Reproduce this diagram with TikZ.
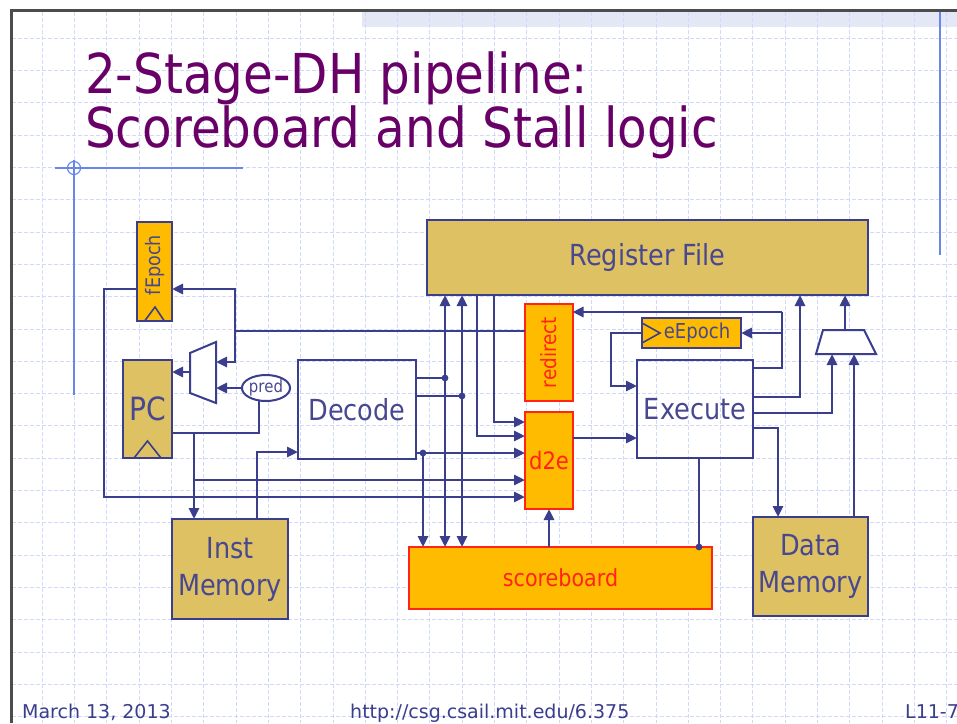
\documentclass[tikz,border=0pt]{standalone}
\usepackage{fontspec}
\setmainfont{DejaVu Sans}
\newfontfamily\cfont[FakeStretch=0.88]{DejaVu Sans}
\usetikzlibrary{arrows.meta,shapes.geometric,calc}
\definecolor{navy}{RGB}{58,62,140}
\definecolor{txtc}{RGB}{72,72,145}
\definecolor{tanc}{RGB}{222,193,99}
\definecolor{goldc}{RGB}{255,187,0}
\definecolor{redc}{RGB}{255,36,20}
\definecolor{titlec}{RGB}{104,0,104}
\definecolor{gridc}{RGB}{208,217,250}
\definecolor{decoc}{RGB}{105,135,235}
\definecolor{bandc}{RGB}{228,232,246}
\begin{document}
\begin{tikzpicture}[x=1pt,y=-1pt,font=\cfont,
  gridl/.style={draw=gridc,line width=1pt,dash pattern=on 4pt off 2pt},
  tanbox/.style={draw=navy,line width=2pt,fill=tanc,inner sep=0pt,outer sep=0pt,text=txtc},
  goldbox/.style={draw=navy,line width=2pt,fill=goldc,inner sep=0pt,outer sep=0pt},
  redbox/.style={draw=redc,line width=2pt,fill=goldc,inner sep=0pt,outer sep=0pt,text=redc},
  plainbox/.style={draw=navy,line width=2pt,inner sep=0pt,outer sep=0pt,text=txtc},
  wire/.style={draw=navy,line width=2.9pt},
  arr/.style={draw=navy,line width=2.9pt,-{Triangle[length=11pt,width=10pt]}},
  arrb/.style={draw=navy,line width=2.9pt,{Triangle[length=11pt,width=10pt]}-{Triangle[length=11pt,width=10pt]}},
  jdot/.style={fill=navy},
  big/.style={font=\cfont\fontsize{29}{37}\selectfont}]
\useasboundingbox (0,0) rectangle (957,723);
\clip (0,0) rectangle (957,723);
\fill[white] (0,0) rectangle (957,723);
% graph paper
\fill[bandc] (362,12) rectangle (957,27);
\foreach \i in {0,...,29} \draw[gridl] ({10+32.3*\i},12) -- ({10+32.3*\i},723);
\foreach \j in {1,...,22} \draw[gridl] (12,{6+32.3*\j}) -- (957,{6+32.3*\j});
% slide frame and decoration
\draw[line width=3pt,black!70] (11,723) -- (11,10) -- (957,10);
\draw[decoc,line width=1.5pt] (940,12) -- (940,255);
\draw[decoc,line width=2pt] (55,168) -- (243,168);
\draw[decoc,line width=1.3pt] (74,160) -- (74,395);
\draw[decoc,line width=1.2pt] (74,168) circle (6.5);
% title
\node[anchor=base west,inner sep=0pt,text=titlec,font=\cfont\fontsize{55}{60}\selectfont] (t1) at (85,93) {2-Stage-DH pipeline:};
\node[anchor=base west,inner sep=0pt,text=titlec,font=\cfont\fontsize{55}{60}\selectfont] (t2) at (85,147) {Scoreboard and Stall logic};
% footer
\node[anchor=base west,inner sep=0pt,text=navy,font=\fontsize{19}{22}\selectfont] (f1) at (22,718) {March 13, 2013};
\node[anchor=base west,inner sep=0pt,text=navy,font=\fontsize{19}{22}\selectfont] (f2) at (350,718) {http://csg.csail.mit.edu/6.375};
\node[anchor=base west,inner sep=0pt,text=navy,font=\fontsize{19}{22}\selectfont] (f3) at (905,718) {L11-7};
% boxes
\node[tanbox,big,minimum width=441pt,minimum height=75pt] (RF) at (647.5,257.5) {Register File};
\node[goldbox,minimum width=35pt,minimum height=99pt] (fE) at (154.5,271.5) {};
\node[rotate=90,inner sep=0pt,text=txtc,font=\cfont\fontsize{20}{24}\selectfont] (fEt) at (155,265) {fEpoch};
\draw[navy,line width=1.6pt] (145,320.5) -- (155,307) -- (164,320.5);
\node[tanbox,minimum width=49pt,minimum height=98pt] (PC) at (147.5,409) {};
\node[inner sep=0pt,text=txtc,font=\cfont\fontsize{32}{36}\selectfont] (PCt) at (147.5,409) {PC};
\draw[navy,line width=1.6pt] (134,458) -- (147.5,441) -- (161,458);
\filldraw[fill=white,draw=navy,line width=2pt] (190,353) -- (216,342) -- (216,403) -- (190,393) -- cycle;
\coordinate (mxo) at (190,372);
\coordinate (mxa) at (216,362);
\coordinate (mxb) at (216,388);
\node[ellipse,draw=navy,line width=2pt,fill=white,minimum width=45pt,minimum height=26pt,inner sep=0pt,text=txtc,font=\cfont\fontsize{17}{20}\selectfont] (pred) at (266,388) {pred};
\node[plainbox,big,minimum width=118pt,minimum height=99pt] (Dec) at (357,409.5) {Decode};
\node[tanbox,big,minimum width=116pt,minimum height=100pt,align=center] (IM) at (230,569) {Inst\\Memory};
\node[redbox,minimum width=48pt,minimum height=97pt] (red) at (548.5,352.5) {};
\node[rotate=90,inner sep=0pt,text=redc,font=\cfont\fontsize{21}{24}\selectfont] (redt) at (548.5,352.5) {redirect};
\node[redbox,minimum width=48pt,minimum height=97pt,font=\cfont\fontsize{24}{28}\selectfont] (d2e) at (549,460.5) {d2e};
\node[redbox,minimum width=303pt,minimum height=62pt,font=\cfont\fontsize{23.5}{28}\selectfont] (SB) at (560.5,578) {scoreboard};
\node[plainbox,big,minimum width=116pt,minimum height=98pt] (Exe) at (695,409) {Execute};
\node[goldbox,minimum width=99pt,minimum height=30pt] (eE) at (691.5,333) {};
\node[inner sep=0pt,text=txtc,font=\cfont\fontsize{20.5}{24}\selectfont] (eEt) at (697,333) {eEpoch};
\draw[navy,line width=1.6pt] (642,323) -- (660,333) -- (642,343);
\filldraw[fill=white,draw=navy,line width=2pt] (823,330) -- (864,330) -- (876,354) -- (816,354) -- cycle;
\coordinate (rmo) at (845,330);
\coordinate (rma) at (832,354);
\coordinate (rmb) at (854,354);
\node[tanbox,big,minimum width=115pt,minimum height=99pt,align=center] (DM) at (810.5,566.5) {Data\\Memory};
% connectors: fetch side
\coordinate (jr) at (235,331);
\draw[wire] (red.west |- jr) -- (jr);
\draw[arr] (jr) |- (fE.east |- 0,289);
\draw[arr] (jr) |- (mxa);
\draw[arr] (fE.west |- 0,289) -| (104,497) -- (d2e.west |- 0,497);
\draw[arr] (pred.west) -- (mxb);
\draw[arr] (mxo) -- (PC.east |- mxo);
\draw[wire] (PC.east |- 0,433) -| (259,400);
\draw[arr] (194,433) -- (IM.north -| 194,0);
\draw[arr] (194,480) -- (d2e.west |- 0,480);
\draw[arr] (IM.north -| 257,0) |- (Dec.west |- 0,452);
% decode side
\draw[wire] (Dec.east |- 0,378) -- (445,378);
\draw[wire] (Dec.east |- 0,396) -- (462,396);
\fill[jdot] (445,378) circle (3.4);
\fill[jdot] (462,396) circle (3.4);
\draw[arrb] (SB.north -| 445,0) -- (RF.south -| 445,0);
\draw[arrb] (SB.north -| 462,0) -- (RF.south -| 462,0);
\draw[arr] (Dec.east |- 0,453) -- (d2e.west |- 0,453);
\fill[jdot] (423,453) circle (3.4);
\draw[arr] (423,453) -- (SB.north -| 423,0);
\draw[arr] (RF.south -| 494,0) |- (d2e.west |- 0,422);
\draw[arr] (RF.south -| 477,0) |- (d2e.west |- 0,436);
\draw[arr] (SB.north -| d2e.south) -- (d2e.south);
\draw[arr] (d2e.east |- 0,438) -- (Exe.west |- 0,438);
% execute side
\draw[arr] (eE.west) -| (611,386) -- (Exe.west |- 0,386);
\draw[wire] (Exe.east |- 0,368) -| (782,312);
\draw[arr] (782,312) -- (red.east |- 0,312);
\draw[arr] (782,333) -- (eE.east);
\draw[arr] (Exe.east |- 0,397) -| (RF.south -| 800,0);
\draw[arr] (Exe.east |- 0,413) -| (rma);
\draw[arr] (Exe.east |- 0,428) -| (DM.north -| 778,0);
\draw[arr] (DM.north -| 854,0) -- (rmb);
\draw[arr] (rmo) -- (RF.south -| rmo);
\draw[wire] (Exe.south -| 699,0) -- (SB.north -| 699,0);
\fill[jdot] (SB.north -| 699,0) circle (3.4);
\end{tikzpicture}
\end{document}
